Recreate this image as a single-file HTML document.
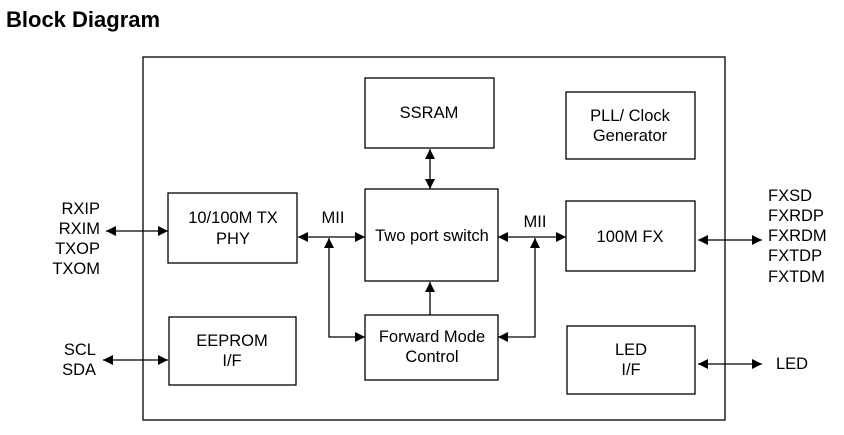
<!DOCTYPE html>
<html><head><style>
body{margin:0;background:#fff;}
svg{display:block;font-family:"Liberation Sans",Arial,sans-serif;}
</style></head><body>
<svg width="844" height="435" viewBox="0 0 844 435">
<defs>
<marker id="a" viewBox="0 0 10 10" refX="10" refY="5" markerWidth="12" markerHeight="10" markerUnits="userSpaceOnUse" orient="auto-start-reverse"><path d="M0,0 L10,5 L0,10 z" fill="#000"/></marker>
</defs>
<text x="6" y="27" font-size="22" font-weight="bold">Block Diagram</text>
<g fill="none" stroke="#000" stroke-width="1.3">
<rect x="143" y="57" width="582" height="363"/>
<rect x="365" y="78" width="129" height="70"/>
<rect x="566" y="92" width="129" height="67"/>
<rect x="168" y="193" width="129" height="70"/>
<rect x="365" y="189" width="133" height="92"/>
<rect x="566" y="201" width="129" height="70"/>
<rect x="169" y="317" width="127" height="68"/>
<rect x="365" y="315" width="133" height="65"/>
<rect x="567" y="326" width="128" height="68"/>
<line x1="106" y1="231" x2="168" y2="231" marker-start="url(#a)" marker-end="url(#a)"/>
<line x1="103" y1="360" x2="168" y2="360" marker-start="url(#a)" marker-end="url(#a)"/>
<line x1="298" y1="237" x2="365" y2="237" marker-start="url(#a)" marker-end="url(#a)"/>
<line x1="498" y1="237" x2="566" y2="237" marker-start="url(#a)" marker-end="url(#a)"/>
<line x1="698" y1="240" x2="762" y2="240" marker-start="url(#a)" marker-end="url(#a)"/>
<line x1="698" y1="364" x2="762" y2="364" marker-start="url(#a)" marker-end="url(#a)"/>
<line x1="430" y1="149" x2="430" y2="189" marker-start="url(#a)" marker-end="url(#a)"/>
<line x1="430" y1="315" x2="430" y2="282" marker-end="url(#a)"/>
<polyline points="329,238 329,337 365,337" marker-start="url(#a)" marker-end="url(#a)"/>
<polyline points="535,238 535,337 498,337" marker-start="url(#a)" marker-end="url(#a)"/>
</g>
<g font-size="16.5" text-anchor="middle">
<text x="429" y="118">SSRAM</text>
<text x="630" y="121">PLL/ Clock</text>
<text x="630" y="141">Generator</text>
<text x="233" y="223">10/100M TX</text>
<text x="233" y="244">PHY</text>
<text x="432" y="241">Two port switch</text>
<text x="630" y="242">100M FX</text>
<text x="232" y="346">EEPROM</text>
<text x="232" y="366">I/F</text>
<text x="432" y="342">Forward Mode</text>
<text x="432" y="362">Control</text>
<text x="631" y="355">LED</text>
<text x="631" y="375">I/F</text>
<text x="333" y="223">MII</text>
<text x="535" y="227">MII</text>
</g>
<g font-size="16.5" text-anchor="end">
<text x="100" y="214">RXIP</text>
<text x="100" y="234">RXIM</text>
<text x="100" y="254">TXOP</text>
<text x="100" y="274">TXOM</text>
<text x="96" y="355">SCL</text>
<text x="96" y="375">SDA</text>
</g>
<g font-size="16.5">
<text x="768" y="201">FXSD</text>
<text x="768" y="221">FXRDP</text>
<text x="768" y="241">FXRDM</text>
<text x="768" y="261">FXTDP</text>
<text x="768" y="282">FXTDM</text>
<text x="776" y="369">LED</text>
</g>
</svg>
</body></html>
